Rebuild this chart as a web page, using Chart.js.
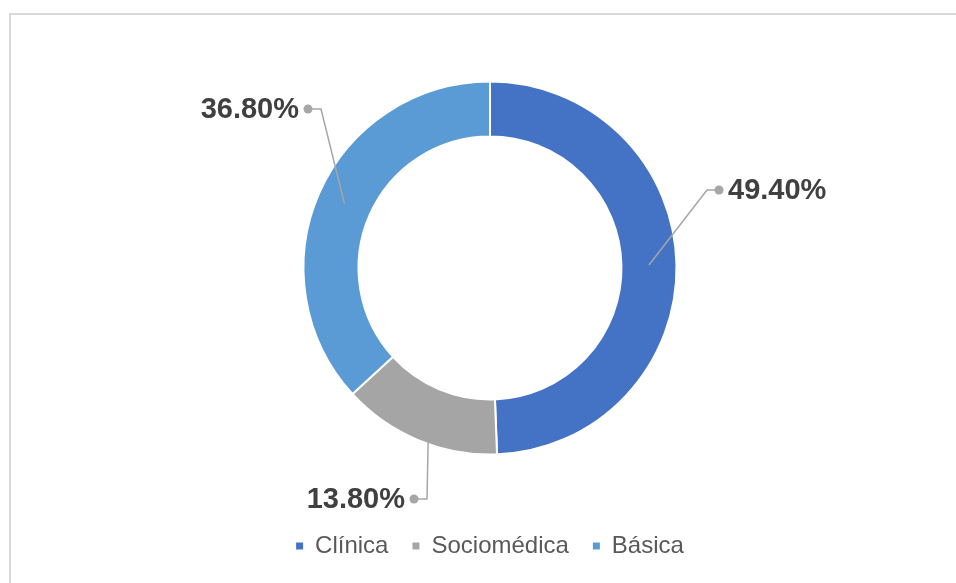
<!DOCTYPE html>
<html lang="es">
<head>
    <meta charset="UTF-8">
    <meta name="viewport" content="width=device-width, initial-scale=1.0">
    <title>Distribución por área</title>
    <script src="https://cdn.jsdelivr.net/npm/chart.js"></script>
    <style>
        html, body {
            margin: 0;
            padding: 0;
            background: #fff;
            overflow: hidden;
        }
        .frame {
            position: absolute;
            left: 9px;
            top: 13px;
            width: 1000px;
            height: 700px;
            border: 2px solid #d9d9d9;
            box-sizing: border-box;
        }
        .wrap {
            position: absolute;
            left: 0;
            top: 0;
            width: 956px;
            height: 583px;
        }
    </style>
</head>
<body>
    <div class="frame"></div>
    <div class="wrap"><canvas id="donut" width="956" height="583"></canvas></div>

    <script>
        // Data
        const categories = ['Clínica', 'Sociomédica', 'Básica'];
        const percentages = [49.4, 13.8, 36.8];
        const colors = ['#4472C4', '#A5A5A5', '#5B9BD5'];

        // Where each data label sits, relative to the donut centre (px)
        const labelSpots = [
            { elbow: [217, -78], dot: [229, -78], side: 'right' },
            { elbow: [-63, 231], dot: [-76, 231], side: 'left' },
            { elbow: [-169, -159], dot: [-182, -159], side: 'left' }
        ];

        Chart.defaults.font.family = '"Liberation Sans", Arial, sans-serif';

        // Leader lines + percentage labels
        const leaderLabels = {
            id: 'leaderLabels',
            afterDatasetsDraw(chart) {
                const ctx = chart.ctx;
                const meta = chart.getDatasetMeta(0);
                meta.data.forEach((arc, i) => {
                    const p = arc.getProps(['x', 'y', 'startAngle', 'endAngle', 'innerRadius', 'outerRadius'], true);
                    const a = (p.startAngle + p.endAngle) / 2;
                    const r = (p.innerRadius + p.outerRadius) / 2;
                    const sx = p.x + Math.cos(a) * r;
                    const sy = p.y + Math.sin(a) * r;
                    const spot = labelSpots[i];
                    const ex = p.x + spot.elbow[0], ey = p.y + spot.elbow[1];
                    const dx = p.x + spot.dot[0], dy = p.y + spot.dot[1];

                    ctx.save();
                    ctx.strokeStyle = '#A6A6A6';
                    ctx.lineWidth = 1.5;
                    ctx.beginPath();
                    ctx.moveTo(sx, sy);
                    ctx.lineTo(ex, ey);
                    ctx.lineTo(dx, dy);
                    ctx.stroke();

                    ctx.fillStyle = '#A6A6A6';
                    ctx.beginPath();
                    ctx.arc(dx, dy, 4.5, 0, Math.PI * 2);
                    ctx.fill();

                    ctx.font = 'bold 29px "Liberation Sans", Arial, sans-serif';
                    ctx.fillStyle = '#404040';
                    ctx.textBaseline = 'middle';
                    const txt = percentages[i].toFixed(2) + '%';
                    if (spot.side === 'right') {
                        ctx.textAlign = 'left';
                        ctx.fillText(txt, dx + 9, dy + 1);
                    } else {
                        ctx.textAlign = 'right';
                        ctx.fillText(txt, dx - 9, dy + 1);
                    }
                    ctx.restore();
                });
            }
        };

        const ctx = document.getElementById('donut').getContext('2d');
        new Chart(ctx, {
            type: 'doughnut',
            data: {
                labels: categories,
                datasets: [{
                    data: percentages,
                    backgroundColor: colors,
                    borderColor: '#ffffff',
                    borderWidth: 2
                }]
            },
            options: {
                responsive: false,
                animation: false,
                radius: 186.5,
                cutout: '70.5%',
                layout: {
                    padding: { top: 26, left: 24, right: 0, bottom: 15 }
                },
                plugins: {
                    legend: {
                        position: 'bottom',
                        labels: {
                            boxWidth: 7,
                            boxHeight: 7,
                            padding: 24,
                            color: '#595959',
                            font: { size: 24 },
                            generateLabels(chart) {
                                const items = Chart.overrides.doughnut.plugins.legend.labels.generateLabels(chart);
                                items.forEach(item => {
                                    item.lineWidth = 0;
                                    item.strokeStyle = item.fillStyle;
                                });
                                return items;
                            }
                        }
                    },
                    tooltip: { enabled: false }
                }
            },
            plugins: [leaderLabels]
        });
    </script>
</body>
</html>
